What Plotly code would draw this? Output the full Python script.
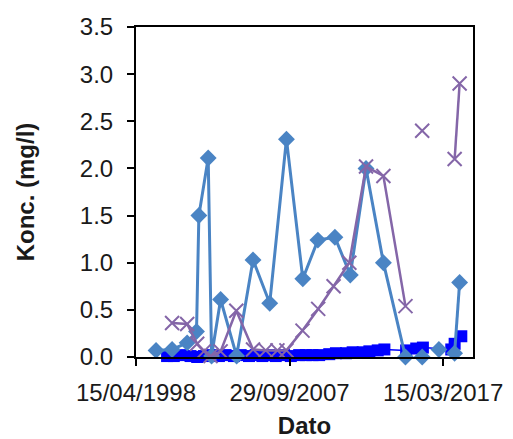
import plotly.graph_objects as go

# Measurement dates and concentrations (mg/l); None marks a break in the line
diamond_dates = [
    "1999-07-10", "2000-07-05", "2001-06-09", "2002-01-05", "2002-02-27",
    "2002-09-25", "2002-12-10", "2003-07-01", "2004-06-25", "2005-06-29",
    "2006-07-10", "2007-07-21", "2008-07-23", "2009-06-27", "2010-07-15",
    "2011-06-26", "2012-06-14", "2013-07-10", "2014-11-18", None,
    "2015-11-29", None, "2016-12-09", None, "2017-11-27", "2018-03-20",
]
diamond_values = [
    0.07, 0.08, 0.15, 0.27, 1.50,
    2.11, 0.01, 0.61, 0.01, 1.03,
    0.57, 2.31, 0.83, 1.24, 1.27,
    0.87, 2.00, 1.00, 0.00, None,
    0.00, None, 0.08, None, 0.04, 0.79,
]

cross_dates = [
    "2000-07-05", "2001-06-09", "2002-01-20", "2002-06-20", "2002-11-17",
    "2003-07-01", "2004-06-18", "2005-06-29", "2006-04-11", "2006-12-30",
    "2007-07-21", "2008-07-16", "2009-07-04", "2010-06-15", "2011-06-04",
    "2012-06-14", "2013-07-10", "2014-11-18", None, "2015-11-29", None,
    "2017-11-28", "2018-03-20",
]
cross_values = [
    0.36, 0.35, 0.14, 0.06, 0.01,
    0.06, 0.49, 0.08, 0.07, 0.07,
    0.07, 0.28, 0.51, 0.75, 1.00,
    2.02, 1.92, 0.54, None, 2.40, None,
    2.10, 2.90,
]

square_dates = [
    "2000-03-14", "2000-08-12", "2001-02-16", "2001-08-23", "2002-01-20",
    "2002-06-20", "2002-12-25", "2003-05-24", "2003-10-21", "2004-04-26",
    "2004-09-24", "2005-03-31", "2005-08-28", "2006-01-26", "2006-06-25",
    "2006-11-22", "2007-05-29", "2007-10-27", "2008-05-02", "2008-09-29",
    "2009-02-26", "2009-07-26", "2010-03-10", "2010-08-07", "2011-03-21",
    "2011-08-18", "2012-03-31", "2012-08-28", "2013-03-04", "2013-08-01",
    "2014-12-03", "2015-07-18", "2015-12-15", "2017-09-13", "2017-11-28",
    "2018-04-27",
]
square_values = [
    0.01, 0.01, 0.02, 0.01, 0.00,
    0.01, 0.02, 0.01, 0.02, 0.01,
    0.02, 0.01, 0.02, 0.01, 0.02,
    0.01, 0.02, 0.01, 0.02, 0.02,
    0.02, 0.02, 0.03, 0.04, 0.04,
    0.05, 0.05, 0.06, 0.07, 0.08,
    0.07, 0.09, 0.10, 0.08, 0.14,
    0.22,
]

x_tick_vals = ["1998-04-15", "2007-09-29", "2017-03-15"]
x_tick_text = ["15/04/1998", "29/09/2007", "15/03/2017"]
x_range = ["1998-04-15", "2019-01-15"]
y_tick_vals = [0.0, 0.5, 1.0, 1.5, 2.0, 2.5, 3.0, 3.5]

FONT = "Liberation Sans, Arial, sans-serif"

fig = go.Figure()

fig.add_trace(go.Scatter(
    x=square_dates, y=square_values, mode="lines+markers",
    line=dict(color="#0000FF", width=1.5),
    marker=dict(symbol="square", size=12, color="#0000FF"),
    cliponaxis=False, showlegend=False,
))
fig.add_trace(go.Scatter(
    x=diamond_dates, y=diamond_values, mode="lines+markers",
    line=dict(color="#4A84C4", width=3),
    marker=dict(symbol="diamond", size=13, color="#4A84C4"),
    cliponaxis=False, showlegend=False,
))
fig.add_trace(go.Scatter(
    x=cross_dates, y=cross_values, mode="lines+markers",
    line=dict(color="#8466A8", width=2.5),
    marker=dict(symbol="x-thin", size=14, line=dict(color="#8466A8", width=2)),
    cliponaxis=False, showlegend=False,
))

fig.update_layout(
    width=513, height=439,
    margin=dict(l=136, r=40, t=27, b=82),
    paper_bgcolor="white", plot_bgcolor="white",
    font=dict(family=FONT, color="#1a1a1a", size=24),
)
fig.update_xaxes(
    type="date", range=x_range, automargin=False,
    tickmode="array", tickvals=x_tick_vals, ticktext=x_tick_text,
    ticks="outside", ticklen=7, tickwidth=2, tickcolor="black",
    tickfont=dict(size=24), ticklabelstandoff=6,
    showline=True, linecolor="black", linewidth=2, mirror=True,
    showgrid=False, zeroline=False,
    title=dict(text="<b>Dato</b>", font=dict(size=24), standoff=15),
)
fig.update_yaxes(
    range=[0, 3.5], tickvals=y_tick_vals, tickformat=".1f", automargin=False,
    ticks="outside", ticklen=7, tickwidth=2, tickcolor="black",
    tickfont=dict(size=24), ticklabelstandoff=9,
    showline=True, linecolor="black", linewidth=2, mirror=True,
    showgrid=False, zeroline=False,
    title=dict(text="<b>Konc. (mg/l)</b>", font=dict(size=24), standoff=38),
)

fig.write_html("out.html")
